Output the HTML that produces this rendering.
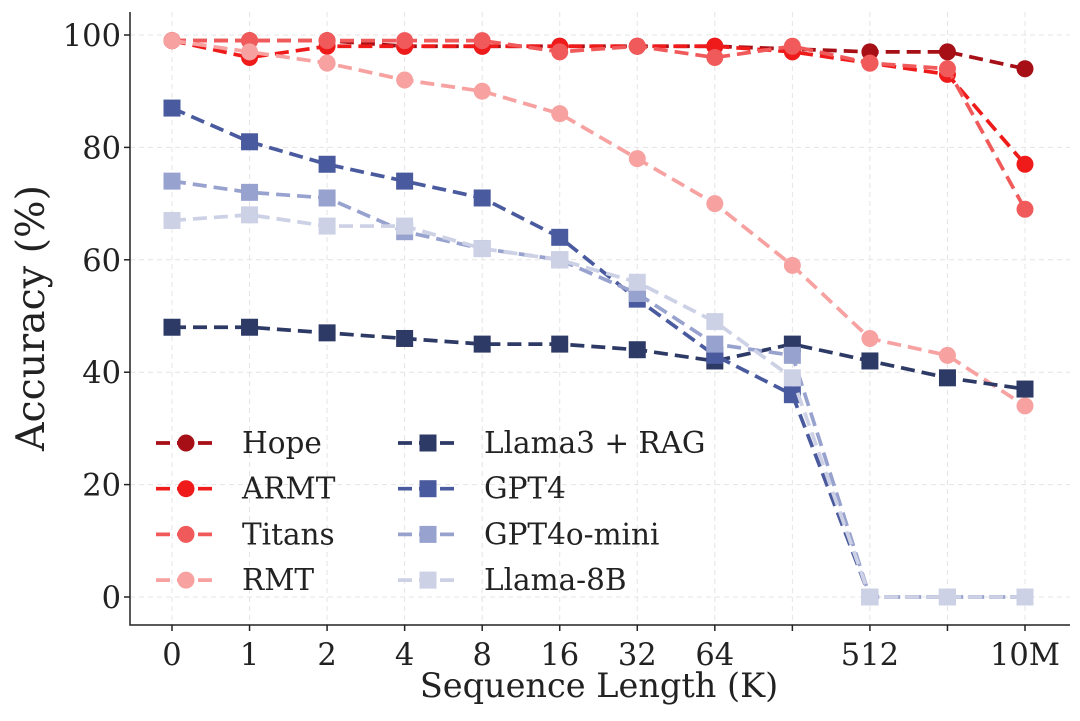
<!DOCTYPE html>
<html><head><meta charset="utf-8"><style>
body{margin:0;background:#fff}
svg text{font-family:"DejaVu Serif","Liberation Serif",serif;fill:#222}
</style></head><body>
<svg id="chart" width="1080" height="716" xmlns="http://www.w3.org/2000/svg">
<g id="grid"></g>
<g id="series"></g>
<g id="axes"></g>
<g id="legend"></g>
</svg>
<script>
const categories=["0","1","2","4","8","16","32","64","","512","","10M"];
const yTicks=[0,20,40,60,80,100];
const seriesNames=["Hope","ARMT","Titans","RMT","Llama3 + RAG","GPT4","GPT4o-mini","Llama-8B"];
const hope=[99,99,99,98,98,98,98,98,97.5,97,97,94];
const armt=[99,96,98,98,98,98,98,98,97,95,93,77];
const titans=[99,99,99,99,99,97,98,96,98,95,94,69];
const rmt=[99,97,95,92,90,86,78,70,59,46,43,34];
const llama3rag=[48,48,47,46,45,45,44,42,45,42,39,37];
const gpt4=[87,81,77,74,71,64,53,43,36,0,0,0];
const gpt4omini=[74,72,71,65,62,60,54,45,43,0,0,0];
const llama8b=[67,68,66,66,62,60,56,49,39,0,0,0];
const colors=["#a50f15","#ef1a1a","#f05a5a","#f7a1a1","#2e3a66","#4a5a9e","#98a2cf","#cdd1e6"];
const allSeries=[hope,armt,titans,rmt,llama3rag,gpt4,gpt4omini,llama8b];
const NS="http://www.w3.org/2000/svg";
const L=130,R=1070,T=12,B=625;
const x=i=>172+i*(1025-172)/(categories.length-1);
const y=v=>597-v*(597-35)/100;
function mk(tag,attrs,parent){const e=document.createElementNS(NS,tag);for(const k in attrs)e.setAttribute(k,attrs[k]);parent.appendChild(e);return e;}
const grid=document.getElementById('grid'),axes=document.getElementById('axes'),ser=document.getElementById('series'),leg=document.getElementById('legend');
categories.forEach((c,i)=>{
 const g=mk('line',{x1:x(i),x2:x(i),y1:T,y2:B,stroke:'#e4e4e4','stroke-dasharray':'5,4','stroke-width':1},grid);
 
 
 const tk=mk('line',{x1:x(i),x2:x(i),y1:B,y2:B+6,stroke:'#222','stroke-width':1.5},axes);
 
 
 const t=mk('text',{x:x(i),y:B+40,'text-anchor':'middle','font-size':30.5},axes);t.textContent=c;
 
 
});
yTicks.forEach(v=>{
 const g=mk('line',{x1:L,x2:R,y1:y(v),y2:y(v),stroke:'#e4e4e4','stroke-dasharray':'5,4','stroke-width':1},grid);
 
 
 const tk=mk('line',{x1:L-6,x2:L,y1:y(v),y2:y(v),stroke:'#222','stroke-width':1.5},axes);
 
 
 const t=mk('text',{x:L-9,y:y(v)+11,'text-anchor':'end','font-size':30.5},axes);t.textContent=v;
 
 
});
const sp=mk('path',{d:`M${L},${T}V${B}H${R}`,fill:'none',stroke:'#222','stroke-width':1.5},axes);


const xt=mk('text',{x:599,y:697,'text-anchor':'middle','font-size':33.5},axes);xt.textContent='Sequence Length (K)';


const yt=mk('text',{x:0,y:0,'text-anchor':'middle','font-size':39.5,transform:'translate(44,318) rotate(-90)'},axes);yt.textContent='Accuracy (%)';


function marker(k,cx,cy,parent,sz){
 if(k<4){return mk('circle',{cx:cx,cy:cy,r:sz,fill:colors[k]},parent);}
 return mk('rect',{x:cx-sz,y:cy-sz,width:2*sz,height:2*sz,fill:colors[k]},parent);
}
allSeries.forEach((d,k)=>{
 const g=mk('g',{},ser);
 
 
 const p=mk('path',{d:d.map((v,i)=>(i?'L':'M')+x(i)+','+y(v)).join(''),fill:'none',stroke:colors[k],'stroke-width':3.7,'stroke-dasharray':'14,7'},g);
 
 
 d.forEach((v,i)=>{const m=marker(k,x(i),y(v),g,k<4?8.5:8.5);
  
  });
});
seriesNames.forEach((n,k)=>{
 const col=Math.floor(k/4),row=k%4;
 const lx=col?398:156,ly=443+row*45.7;
 const g=mk('g',{},leg);
 
 
 mk('line',{x1:lx,x2:lx+60,y1:ly,y2:ly,stroke:colors[k],'stroke-width':3.7,'stroke-dasharray':'14,7'},g);
 marker(k,lx+30,ly,g,8.5);
 const t=mk('text',{x:lx+86,y:ly+10,'font-size':29.5,fill:'#333'},g);t.textContent=n;
});
</script>
</body></html>
